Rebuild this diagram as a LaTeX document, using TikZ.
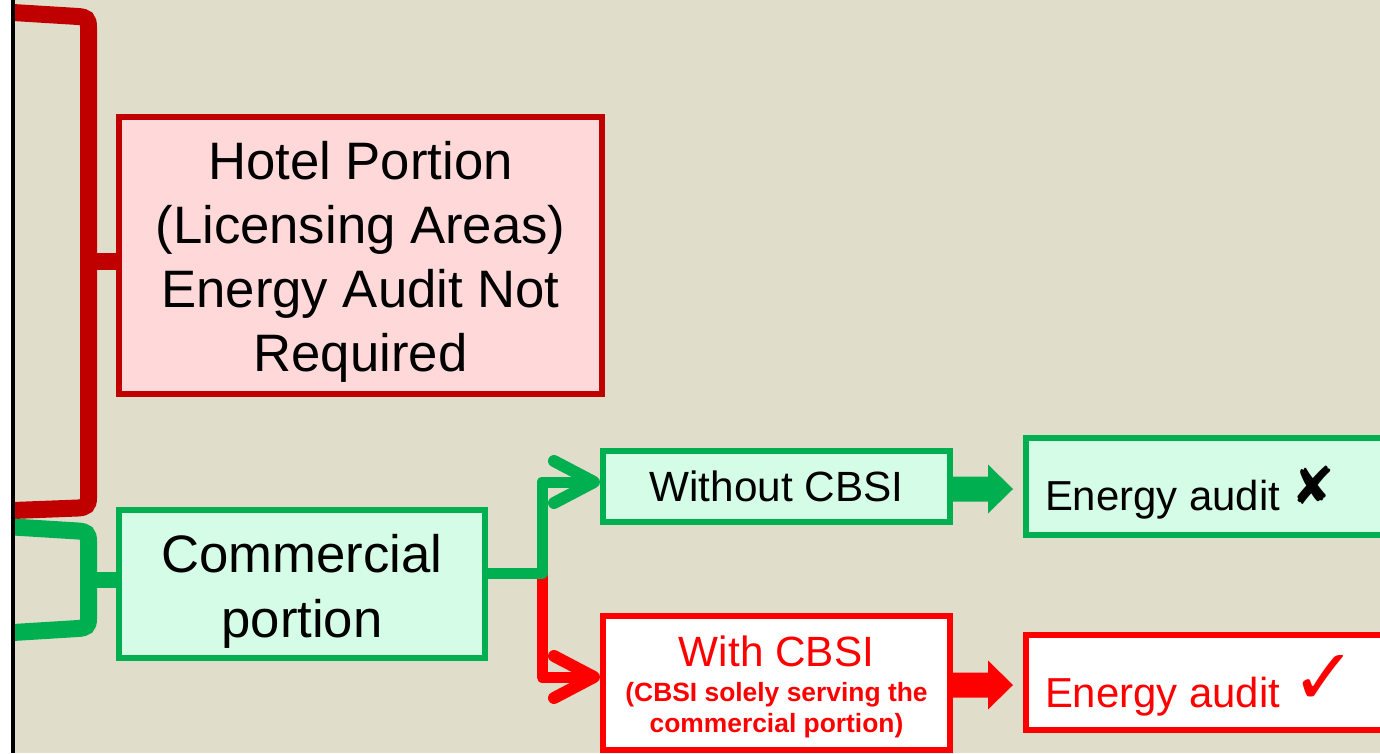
\documentclass[tikz,border=0pt]{standalone}
\usepackage{fontspec}
\setmainfont{Liberation Sans}
\newfontfamily\symfont{DejaVu Sans}
\usetikzlibrary{calc}
\definecolor{bgc}{RGB}{224,222,203}
\definecolor{dred}{RGB}{192,0,0}
\definecolor{grn}{RGB}{0,176,80}
\definecolor{brd}{RGB}{255,0,0}
\definecolor{pinkf}{RGB}{255,217,217}
\definecolor{mint}{RGB}{213,252,230}
\newcommand\upstrut[1]{\rule{0pt}{#1}}
\begin{document}
\begin{tikzpicture}[x=1pt,y=-1pt,
  box/.style={draw, line width=6pt, inner sep=0pt},
  gbox/.style={box, draw=grn, fill=mint},
  rbox/.style={box, draw=brd, fill=white, text=brd},
  conn/.style={line width=11pt, line join=round},
  barb/.style={line width=12pt, line cap=round, line join=round},
  brk/.style={line width=17pt}]
\useasboundingbox (0,0) rectangle (1380,753);
\fill[white] (0,0) rectangle (1380,753);
\fill[bgc] (13,0) rectangle (1380,753);
% brackets
\draw[brk, dred] (13,12.5) -- (78,16.5) .. controls (86,17) and (88.5,19) .. (88.5,27) -- (88.5,498) .. controls (88.5,505) and (86,507.5) .. (78,508) -- (13,510.5);
\draw[brk, grn] (13,527) -- (78,531) .. controls (86,531.5) and (88.5,533.5) .. (88.5,541) -- (88.5,619) .. controls (88.5,626) and (86,628) .. (78,628.5) -- (13,632.5);
\coordinate (rb) at (88.5,261);
\coordinate (gb) at (88.5,580);
% boxes
\node[box, draw=dred, fill=pinkf, align=center, minimum width=483pt, minimum height=277pt, font=\fontsize{52.7}{64}\selectfont] (hotel) at (360.5,255.5) {\upstrut{51.5pt}Hotel Portion\\(Licensing Areas)\\Energy Audit Not\\Required};
\node[gbox, align=center, minimum width=366pt, minimum height=148pt, font=\fontsize{52.7}{65}\selectfont] (comm) at (302,584) {\upstrut{52pt}Commercial\\portion};
\node[gbox, minimum width=347pt, minimum height=71pt, font=\fontsize{42.3}{50}\selectfont] (without) at (776.5,486.5) {Without CBSI};
\node[gbox, anchor=west, minimum height=97pt, inner xsep=19pt, text height=56pt, text depth=9pt, font=\fontsize{41.9}{50}\selectfont] (ea1) at (1023,486.5) {\makebox[380pt][l]{Energy audit {\symfont\fontsize{52}{52}\selectfont\raisebox{6pt}{✘}}}};
\node[rbox, align=center, minimum width=347pt, minimum height=134pt, font=\bfseries\fontsize{26.4}{31}\selectfont] (with) at (776.5,683) {{\mdseries\fontsize{42.3}{50}\selectfont\upstrut{39pt}With CBSI}\\[4pt](CBSI solely serving the\\commercial portion)};
\node[rbox, anchor=west, minimum height=95pt, inner xsep=19pt, text height=58pt, text depth=9pt, font=\fontsize{41.9}{50}\selectfont] (ea2) at (1023,682.5) {\makebox[380pt][l]{Energy audit {\symfont\fontsize{78}{78}\selectfont\raisebox{3pt}{✓}}}};
% bracket stubs
\draw[brk, dred] (rb) -- (rb -| hotel.west);
\draw[line width=16pt, grn] (gb) -- (gb -| comm.west);
% branching connectors
\coordinate (jn) at (542,573);
\coordinate (gt) at ($(without.west)+(-6,-4.5)$);
\coordinate (rt) at ($(with.west)+(-6,-6)$);
\draw[conn, brd] (jn) |- (rt);
\draw[barb, brd] (rt) ++(-40,-21) -- (rt) -- ++(-40,21);
\draw[conn, grn] (comm.east |- jn) -- (jn) |- (gt);
\draw[barb, grn] (gt) ++(-40,-21) -- (gt) -- ++(-40,21);
% block arrows
\coordinate (gs) at ($(without.east)+(0,2.5)$);
\fill[grn] (gs) ++(-2,-12.5) -- ++(37,0) -- ++(0,-12) -- ++(25,24.5) -- ++(-25,24.5) -- ++(0,-12) -- ++(-37,0) -- cycle;
\coordinate (rs) at ($(with.east)+(0,2)$);
\fill[brd] (rs) ++(-2,-12.5) -- ++(37,0) -- ++(0,-12) -- ++(25,24.5) -- ++(-25,24.5) -- ++(0,-12) -- ++(-37,0) -- cycle;
% left rule
\draw[line width=4pt] (13,0) -- (13,753);
\end{tikzpicture}
\end{document}
